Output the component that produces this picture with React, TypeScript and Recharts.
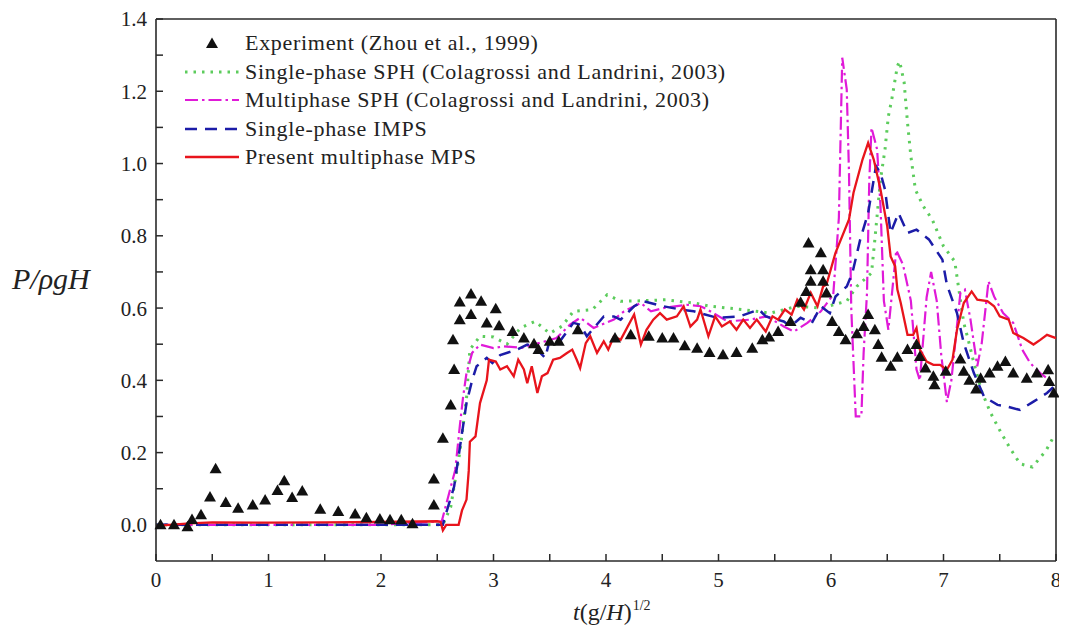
import { ComposedChart, Line, Scatter, XAxis, YAxis, ReferenceLine } from 'recharts';

// Experiment (Zhou et al., 1999) – [t, P/ρgH]
const experiment: [number, number][] = [
  [0.04, 0.0], [0.16, 0.0], [0.28, -0.005], [0.32, 0.015], [0.4, 0.028], [0.48, 0.077], [0.53, 0.155],
  [0.62, 0.062], [0.73, 0.046], [0.86, 0.055], [0.97, 0.069], [1.08, 0.095], [1.14, 0.122], [1.21, 0.076],
  [1.3, 0.094], [1.46, 0.043], [1.62, 0.037], [1.77, 0.03], [1.87, 0.02], [1.99, 0.016], [2.08, 0.014],
  [2.18, 0.014], [2.28, 0.003], [2.47, 0.055], [2.47, 0.127], [2.55, 0.24], [2.62, 0.332], [2.65, 0.43],
  [2.64, 0.512], [2.7, 0.568], [2.7, 0.617], [2.8, 0.639], [2.8, 0.582], [2.89, 0.619], [2.94, 0.559],
  [3.02, 0.598], [3.05, 0.551], [3.17, 0.535], [3.27, 0.517], [3.36, 0.501], [3.4, 0.485], [3.5, 0.508],
  [3.58, 0.508], [3.75, 0.54], [4.08, 0.517], [4.22, 0.526], [4.38, 0.522], [4.5, 0.517], [4.6, 0.517],
  [4.7, 0.496], [4.81, 0.489], [4.92, 0.477], [5.04, 0.471], [5.16, 0.477], [5.3, 0.489], [5.39, 0.512],
  [5.45, 0.52], [5.53, 0.535], [5.64, 0.563], [5.73, 0.616], [5.78, 0.646], [5.82, 0.674], [5.82, 0.706],
  [5.8, 0.78], [5.91, 0.753], [5.93, 0.706], [5.93, 0.674], [5.96, 0.642], [6.01, 0.563], [6.07, 0.535],
  [6.13, 0.512], [6.23, 0.529], [6.29, 0.549], [6.33, 0.582], [6.39, 0.54], [6.42, 0.499], [6.45, 0.464],
  [6.53, 0.439], [6.59, 0.464], [6.68, 0.485], [6.76, 0.499], [6.79, 0.466], [6.84, 0.434], [6.91, 0.411],
  [6.92, 0.388], [7.02, 0.425], [7.15, 0.459], [7.18, 0.425], [7.23, 0.4], [7.29, 0.376], [7.33, 0.406],
  [7.41, 0.42], [7.48, 0.439], [7.55, 0.452], [7.62, 0.42], [7.74, 0.406], [7.83, 0.42], [7.93, 0.429],
  [7.94, 0.397], [7.98, 0.365],
];

// Single-phase SPH
const sphSingle: [number, number][] = [
  [0, 0.0], [1, 0.0], [2, 0.0], [2.55, 0.0], [2.62, 0.05], [2.7, 0.2], [2.76, 0.35], [2.79, 0.485],
  [2.88, 0.522], [3.0, 0.52], [3.12, 0.5], [3.24, 0.545], [3.37, 0.563], [3.5, 0.53], [3.61, 0.55],
  [3.71, 0.591], [3.88, 0.596], [4.01, 0.637], [4.13, 0.619], [4.31, 0.62], [4.53, 0.623], [4.78, 0.614],
  [4.93, 0.605], [5.08, 0.6], [5.21, 0.596], [5.46, 0.586], [5.7, 0.605], [5.91, 0.6], [6.14, 0.619],
  [6.23, 0.66], [6.36, 0.697], [6.39, 0.79], [6.44, 0.956], [6.48, 1.039], [6.51, 1.131], [6.54, 1.177],
  [6.59, 1.27], [6.61, 1.283], [6.65, 1.225], [6.68, 1.113], [6.71, 1.02], [6.75, 0.928], [6.82, 0.882],
  [6.9, 0.845], [7.0, 0.771], [7.1, 0.729], [7.18, 0.559], [7.22, 0.512], [7.27, 0.448], [7.34, 0.369],
  [7.42, 0.309], [7.51, 0.256], [7.59, 0.213], [7.68, 0.169], [7.79, 0.16], [7.91, 0.205], [7.99, 0.25],
];

// Multiphase SPH
const sphMulti: [number, number][] = [
  [0, 0.0], [1, 0.0], [2, 0.0], [2.54, 0.01], [2.66, 0.152], [2.7, 0.272], [2.73, 0.355], [2.76, 0.42],
  [2.81, 0.476], [2.88, 0.499], [3.0, 0.489], [3.09, 0.494], [3.25, 0.49], [3.46, 0.508], [3.56, 0.517],
  [3.68, 0.554], [3.77, 0.573], [3.89, 0.545], [4.07, 0.568], [4.16, 0.591], [4.31, 0.614], [4.4, 0.591],
  [4.51, 0.6], [4.72, 0.609], [4.84, 0.605], [4.9, 0.596], [5.08, 0.563], [5.28, 0.568], [5.43, 0.577],
  [5.58, 0.549], [5.67, 0.535], [5.79, 0.559], [5.91, 0.591], [6.02, 0.637], [6.07, 0.85], [6.1, 1.293],
  [6.14, 1.205], [6.16, 0.974], [6.18, 0.6], [6.22, 0.3], [6.27, 0.3], [6.29, 0.476], [6.32, 0.642],
  [6.34, 0.95], [6.36, 1.099], [6.41, 1.039], [6.44, 0.882], [6.47, 0.62], [6.51, 0.54], [6.58, 0.76],
  [6.64, 0.72], [6.71, 0.62], [6.76, 0.43], [6.79, 0.4], [6.85, 0.63], [6.89, 0.7], [6.94, 0.62],
  [6.98, 0.47], [7.03, 0.34], [7.07, 0.4], [7.15, 0.642], [7.19, 0.651], [7.24, 0.568], [7.3, 0.439],
  [7.34, 0.503], [7.4, 0.674], [7.45, 0.632], [7.53, 0.586], [7.62, 0.559], [7.7, 0.485], [7.77, 0.448],
  [7.86, 0.42], [7.98, 0.392],
];

// Single-phase IMPS
const impsSingle: [number, number][] = [
  [0, 0.0], [1, 0.0], [2, 0.0], [2.55, 0.0], [2.57, 0.023], [2.65, 0.106], [2.72, 0.254], [2.76, 0.337],
  [2.81, 0.4], [2.85, 0.439], [2.94, 0.462], [2.99, 0.448], [3.06, 0.47], [3.21, 0.485], [3.3, 0.499],
  [3.36, 0.494], [3.46, 0.462], [3.5, 0.512], [3.59, 0.508], [3.71, 0.559], [3.77, 0.554], [3.83, 0.522],
  [3.98, 0.577], [4.07, 0.577], [4.13, 0.568], [4.25, 0.605], [4.33, 0.619], [4.51, 0.605], [4.66, 0.596],
  [4.78, 0.591], [4.99, 0.573], [5.19, 0.577], [5.36, 0.596], [5.42, 0.577], [5.58, 0.563], [5.64, 0.549],
  [5.73, 0.573], [5.83, 0.559], [5.91, 0.605], [5.99, 0.586], [6.04, 0.632], [6.14, 0.66], [6.19, 0.697],
  [6.26, 0.79], [6.33, 0.863], [6.4, 0.993], [6.44, 0.974], [6.48, 0.928], [6.53, 0.808], [6.6, 0.863],
  [6.68, 0.808], [6.76, 0.817], [6.87, 0.79], [6.99, 0.734], [7.03, 0.665], [7.12, 0.586], [7.18, 0.503],
  [7.27, 0.42], [7.36, 0.355], [7.48, 0.332], [7.56, 0.328], [7.68, 0.318], [7.8, 0.341], [7.92, 0.365],
  [8.0, 0.388],
];

// Present multiphase MPS
const mpsMulti: [number, number][] = [
  [0, -0.003], [0.3, 0.004], [0.5, 0.007], [1, 0.006], [1.5, 0.007], [2, 0.008], [2.5, 0.01], [2.53, 0.008],
  [2.55, -0.015], [2.58, 0.0], [2.69, 0.0], [2.72, 0.04], [2.76, 0.07], [2.78, 0.15], [2.79, 0.23],
  [2.84, 0.245], [2.88, 0.337], [2.94, 0.4], [2.96, 0.457], [3.02, 0.452], [3.06, 0.43], [3.12, 0.439],
  [3.18, 0.411], [3.22, 0.457], [3.27, 0.43], [3.3, 0.392], [3.34, 0.439], [3.39, 0.365], [3.43, 0.411],
  [3.48, 0.42], [3.53, 0.457], [3.59, 0.462], [3.65, 0.475], [3.7, 0.485], [3.74, 0.457], [3.77, 0.434],
  [3.82, 0.503], [3.86, 0.522], [3.92, 0.476], [3.98, 0.508], [4.02, 0.485], [4.07, 0.522], [4.13, 0.512],
  [4.25, 0.582], [4.31, 0.499], [4.36, 0.54], [4.42, 0.568], [4.48, 0.586], [4.54, 0.568], [4.63, 0.577],
  [4.69, 0.605], [4.75, 0.549], [4.81, 0.568], [4.84, 0.596], [4.91, 0.522], [4.97, 0.577], [5.03, 0.549],
  [5.1, 0.563], [5.16, 0.54], [5.22, 0.568], [5.28, 0.545], [5.34, 0.568], [5.42, 0.535], [5.48, 0.577],
  [5.53, 0.568], [5.59, 0.596], [5.65, 0.582], [5.7, 0.623], [5.76, 0.596], [5.82, 0.642], [5.88, 0.605],
  [5.93, 0.66], [5.96, 0.665], [6.04, 0.753], [6.16, 0.845], [6.2, 0.919], [6.28, 1.011], [6.33, 1.057],
  [6.38, 1.011], [6.44, 0.928], [6.5, 0.826], [6.53, 0.743], [6.57, 0.716], [6.59, 0.651], [6.62, 0.614],
  [6.68, 0.526], [6.73, 0.526], [6.76, 0.545], [6.79, 0.485], [6.85, 0.452], [6.91, 0.443], [6.97, 0.443],
  [7.03, 0.429], [7.08, 0.457], [7.12, 0.54], [7.18, 0.614], [7.25, 0.646], [7.3, 0.623], [7.39, 0.619],
  [7.45, 0.605], [7.5, 0.577], [7.58, 0.568], [7.62, 0.531], [7.71, 0.517], [7.8, 0.499], [7.86, 0.512],
  [7.92, 0.526], [8.0, 0.517],
];

const xTicks = [0, 0.5, 1, 1.5, 2, 2.5, 3, 3.5, 4, 4.5, 5, 5.5, 6, 6.5, 7, 7.5, 8];
const yTicks = [0, 0.1, 0.2, 0.3, 0.4, 0.5, 0.6, 0.7, 0.8, 0.9, 1.0, 1.1, 1.2, 1.3, 1.4];

const legendLabels = [
  'Experiment (Zhou et al., 1999)',
  'Single-phase SPH (Colagrossi and Landrini, 2003)',
  'Multiphase SPH (Colagrossi and Landrini, 2003)',
  'Single-phase IMPS',
  'Present multiphase MPS',
];

const toRows = (pts: [number, number][]) => pts.map(([t, v]) => ({ t, v }));

const serif = '"Liberation Serif", "Times New Roman", serif';
const axisColor = '#2a2a2a';
const tickFont = { fontSize: 21, fill: '#222', fontFamily: serif };

const styles = [
  { color: '#5ccc5c', dash: '2.5 6', width: 3 },
  { color: '#e01ad8', dash: '13 4 2.5 4', width: 2.2 },
  { color: '#1c1ca8', dash: '12 8', width: 2.5 },
  { color: '#e8141c', dash: undefined, width: 2.3 },
];

const Triangle = (props: any) => {
  const { cx, cy } = props;
  if (cx == null || cy == null) return null;
  return <polygon points={`${cx},${cy - 6} ${cx - 6},${cy + 4.5} ${cx + 6},${cy + 4.5}`} fill="#111" />;
};

function LegendBox() {
  return (
    <div
      style={{ position: 'absolute', left: 183, top: 29, fontFamily: serif, fontSize: 22, letterSpacing: 0.7, color: '#222' }}
    >
      {legendLabels.map((label, i) => (
        <div key={label} style={{ display: 'flex', alignItems: 'center', height: 28.5 }}>
          <svg width={58} height={14} style={{ marginRight: 4 }}>
            {i === 0 ? (
              <polygon points="29,1.5 23,12 35,12" fill="#111" />
            ) : (
              <line
                x1={2}
                x2={56}
                y1={7}
                y2={7}
                stroke={styles[i - 1].color}
                strokeWidth={styles[i - 1].width}
                strokeDasharray={styles[i - 1].dash}
              />
            )}
          </svg>
          <span style={{ lineHeight: '28.5px' }}>{label}</span>
        </div>
      ))}
    </div>
  );
}

export default function App() {
  const lines = [sphSingle, sphMulti, impsSingle, mpsMulti];
  return (
    <div style={{ position: 'relative', width: 1067, height: 629, margin: '-8px 0 0 -8px', background: '#fff' }}>
      <ComposedChart width={1067} height={629} margin={{ top: 19, right: 11, bottom: 38, left: 96 }}>
        <XAxis
          type="number"
          dataKey="t"
          domain={[0, 8]}
          ticks={xTicks}
          interval={0}
          height={30}
          tickSize={-7}
          tickMargin={18}
          tick={tickFont}
          tickFormatter={(v: number) => (Number.isInteger(v) ? String(v) : '')}
          axisLine={{ stroke: axisColor, strokeWidth: 1.6 }}
          tickLine={{ stroke: axisColor, strokeWidth: 1.5 }}
        />
        <YAxis
          type="number"
          dataKey="v"
          domain={[-0.1, 1.4]}
          ticks={yTicks}
          interval={0}
          width={60}
          tickSize={-7}
          tickMargin={16}
          tick={tickFont}
          tickFormatter={(v: number) => (Math.round(v * 10) % 2 === 0 ? v.toFixed(1) : '')}
          axisLine={{ stroke: axisColor, strokeWidth: 1.6 }}
          tickLine={{ stroke: axisColor, strokeWidth: 1.5 }}
        />
        <ReferenceLine y={1.4} stroke={axisColor} strokeWidth={1.6} />
        <ReferenceLine x={8} stroke={axisColor} strokeWidth={1.6} />
        <Scatter name={legendLabels[0]} data={toRows(experiment)} shape={Triangle} isAnimationActive={false} />
        {lines.map((pts, i) => (
          <Line
            key={legendLabels[i + 1]}
            name={legendLabels[i + 1]}
            data={toRows(pts)}
            dataKey="v"
            type="linear"
            dot={false}
            activeDot={false}
            stroke={styles[i].color}
            strokeWidth={styles[i].width}
            strokeDasharray={styles[i].dash}
            isAnimationActive={false}
          />
        ))}
      </ComposedChart>
      <LegendBox />
      <div
        style={{ position: 'absolute', left: 12, top: 264, fontFamily: serif, fontSize: 30, lineHeight: '30px', color: '#222', fontStyle: 'italic', whiteSpace: 'nowrap' }}
      >
        P/ρgH
      </div>
      <div
        style={{ position: 'absolute', left: 573, top: 600, fontFamily: serif, fontSize: 24, lineHeight: '24px', color: '#222', whiteSpace: 'nowrap' }}
      >
        <i>t</i>(g/<i>H</i>)<sup style={{ fontSize: 14, verticalAlign: 'top', position: 'relative', top: -6, marginLeft: 1 }}>1/2</sup>
      </div>
    </div>
  );
}
